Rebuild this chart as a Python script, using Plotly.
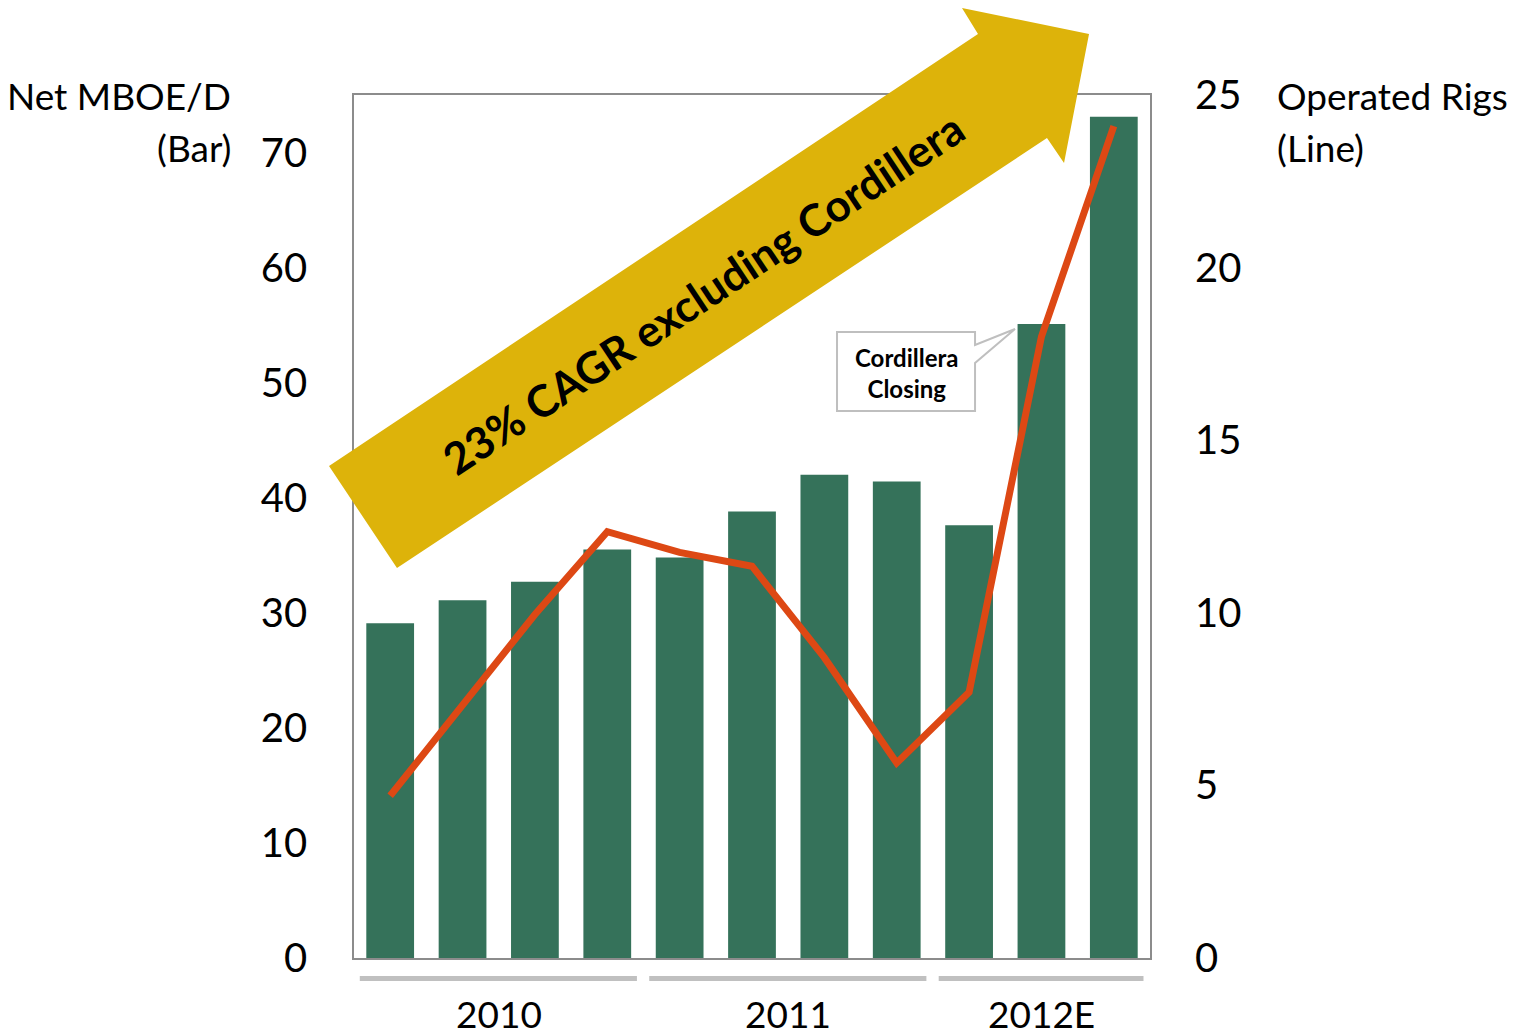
import plotly.graph_objects as go

# ---- data ----
periods = list(range(11))
net_mboed = [29.1, 31.1, 32.7, 35.5, 34.8, 38.8, 42.0, 41.4, 37.6, 55.1, 73.1]
operated_rigs = [4.7, 7.3, 9.95, 12.35, 11.75, 11.35, 8.7, 5.65, 7.7, 18.0, 24.1]
year_labels = ["2010", "2011", "2012E"]
year_start = [0, 4, 8]
year_end = [3, 7, 10]
left_ticks = [0, 10, 20, 30, 40, 50, 60, 70]
right_ticks = [0, 5, 10, 15, 20, 25]

OFF = 8  # default page body margin
W, H = 1528 - 2 * OFF, 1036 - OFF
L, R, T, B = 354, 1150, 95, 958  # plot area in page pixels
FONT = "Lato"


def px(xp):
    return (xp - L) / (R - L)


def py(yp):
    return (B - yp) / (B - T)


fig = go.Figure()
fig.add_trace(go.Bar(x=periods, y=net_mboed, marker=dict(color="#35725A", line=dict(width=0)),
                     yaxis="y", showlegend=False))
fig.add_trace(go.Scatter(x=periods, y=operated_rigs, mode="lines",
                         line=dict(color="#DD4814", width=7), yaxis="y2", showlegend=False))

shapes = []
# arrow
arrow_pts = [(329, 466), (978, 34), (962, 8), (1089, 34), (1064, 163), (1047, 138), (397, 568)]
path = "M " + " L ".join(f"{px(a):.4f},{py(b):.4f}" for a, b in arrow_pts) + " Z"
shapes.append(dict(type="path", xref="paper", yref="paper", path=path,
                   fillcolor="#DDB30A", line=dict(width=0), layer="above"))
# callout
call_pts = [(837, 332), (975, 332), (975, 345), (1015, 329), (975, 363), (975, 411), (837, 411)]
cpath = "M " + " L ".join(f"{px(a):.4f},{py(b):.4f}" for a, b in call_pts) + " Z"
shapes.append(dict(type="path", xref="paper", yref="paper", path=cpath,
                   fillcolor="white", line=dict(color="#BFBFBF", width=2), layer="above"))
# year group lines
for s, e in zip(year_start, year_end):
    shapes.append(dict(type="line", xref="x", yref="paper", x0=s - 0.42, x1=e + 0.41,
                       y0=py(978.5), y1=py(978.5), line=dict(color="#C0C0C0", width=5)))

annotations = []
for lab, s, e in zip(year_labels, year_start, year_end):
    annotations.append(dict(x=(s + e) / 2, y=py(1013), xref="x", yref="paper", text=lab,
                            showarrow=False, font=dict(family=FONT, size=37, color="black"),
                            xanchor="center", yanchor="middle"))
annotations += [
    dict(x=px(233), y=py(95), xref="paper", yref="paper", text="Net MBOE/D", showarrow=False,
         xanchor="right", yanchor="middle", font=dict(family=FONT, size=37, color="black")),
    dict(x=px(233), y=py(147), xref="paper", yref="paper", text="(Bar)", showarrow=False,
         xanchor="right", yanchor="middle", font=dict(family=FONT, size=37, color="black")),
    dict(x=px(1275), y=py(95), xref="paper", yref="paper", text="Operated Rigs", showarrow=False,
         xanchor="left", yanchor="middle", font=dict(family=FONT, size=37, color="black")),
    dict(x=px(1275), y=py(147), xref="paper", yref="paper", text="(Line)", showarrow=False,
         xanchor="left", yanchor="middle", font=dict(family=FONT, size=37, color="black")),
    dict(x=px(703), y=py(293), xref="paper", yref="paper", text="<b>23% CAGR excluding Cordillera</b>",
         showarrow=False, textangle=-33.6, xanchor="center", yanchor="middle",
         font=dict(family=FONT, size=44, color="black")),
    dict(x=px(906), y=py(373), xref="paper", yref="paper", text="<b>Cordillera<br>Closing</b>",
         showarrow=False, xanchor="center", yanchor="middle", align="center",
         font=dict(family=FONT, size=24, color="black")),
]

fig.update_layout(
    width=W, height=H,
    margin=dict(l=L - OFF, r=W - (R - OFF), t=T - OFF, b=H - (B - OFF), pad=0),
    paper_bgcolor="white", plot_bgcolor="white",
    bargap=0.34,
    shapes=shapes, annotations=annotations,
    xaxis=dict(range=[-0.5, 10.5], showticklabels=False, showgrid=False, zeroline=False,
               showline=True, mirror=True, linecolor="#8C8C8C", linewidth=1.5, ticks=""),
    yaxis=dict(range=[0, 75], tickvals=left_ticks, showgrid=False, zeroline=False,
               showline=True, mirror=True, linecolor="#8C8C8C", linewidth=1.5,
               ticklabelstandoff=37, tickfont=dict(family=FONT, size=40, color="black")),
    yaxis2=dict(range=[0, 25], tickvals=right_ticks, overlaying="y", side="right",
                showgrid=False, zeroline=False, showline=False,
                ticklabelstandoff=44, tickfont=dict(family=FONT, size=40, color="black")),
)

fig.write_html("out.html")
